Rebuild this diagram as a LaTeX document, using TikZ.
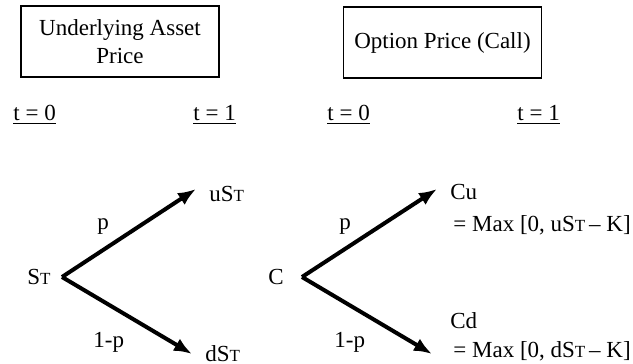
\documentclass[tikz,border=0pt]{standalone}
\usepackage{fontspec}
\setmainfont{Liberation Serif}
\usetikzlibrary{arrows.meta}
\newcommand{\smT}{{\fontsize{8.5}{9}\selectfont T}}
\begin{document}
\begin{tikzpicture}[x=0.5pt,y=-0.5pt,
  every node/.style={font=\fontsize{11.5}{13}\selectfont, inner sep=0pt},
  titlebox/.style={draw, line width=0.8pt, minimum width=99pt, minimum height=35.5pt, align=center},
  arr/.style={line width=2pt, -{Latex[length=9pt,width=7pt]}},
  lbl/.style={anchor=base west}]
\useasboundingbox (0,0) rectangle (633,364);
\node[titlebox] (b1) at (120,41.5) {Underlying Asset\\[1pt]Price};
\node[titlebox] (b2) at (442.5,42.5) {Option Price (Call)};
% time labels
\node[lbl] (t0a) at (13,120) {\underline{t = 0}};
\node[lbl] (t1a) at (193,120) {\underline{t = 1}};
\node[lbl] (t0b) at (327,120) {\underline{t = 0}};
\node[lbl] (t1b) at (517,120) {\underline{t = 1}};
% left tree
\node[lbl] (s0) at (27,284) {S\smT};
\coordinate (v1) at (62,277);
\coordinate (u1) at (196,189);
\coordinate (d1) at (192,354);
\draw[arr] (v1) -- (u1);
\draw[arr] (v1) -- (d1);
\node[lbl] (su) at (209,201) {uS\smT};
\node[lbl] (sd) at (205,361) {dS\smT};
\node[lbl] (p1) at (97,229) {p};
\node[lbl] (q1) at (93,347) {1-p};
% right tree
\node[lbl] (c0) at (268,284) {C};
\coordinate (v2) at (302,277);
\coordinate (u2) at (437,189);
\coordinate (d2) at (432,354);
\draw[arr] (v2) -- (u2);
\draw[arr] (v2) -- (d2);
\node[lbl] (cu) at (450,199) {Cu};
\node[lbl] (mu) at (453,231) {= Max [0, uS\smT\,– K]};
\node[lbl] (cd) at (450,328) {Cd};
\node[lbl] (md) at (453,357) {= Max [0, dS\smT\,– K]};
\node[lbl] (p2) at (339,229) {p};
\node[lbl] (q2) at (334,347) {1-p};
\end{tikzpicture}
\end{document}
